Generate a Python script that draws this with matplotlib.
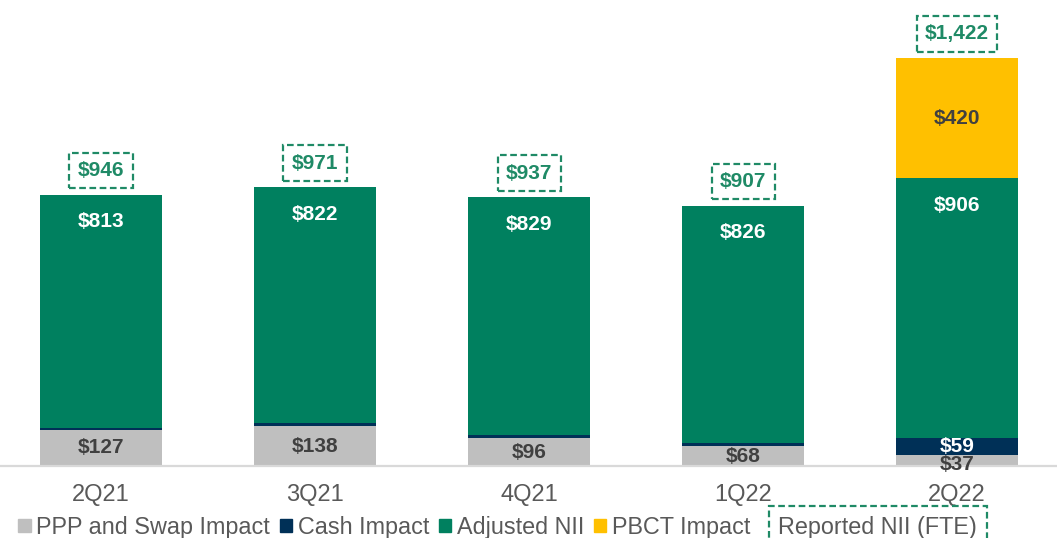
import matplotlib
matplotlib.use("Agg")
import matplotlib.pyplot as plt
from matplotlib.patches import Patch
import numpy as np

plt.rcParams['font.family'] = ['Liberation Sans', 'DejaVu Sans']

quarters = ["2Q21", "3Q21", "4Q21", "1Q22", "2Q22"]
ppp_swap = [127, 138, 96, 68, 37]
cash = [6, 11, 12, 13, 59]
adjusted = [813, 822, 829, 826, 906]
pbct = [0, 0, 0, 0, 420]
reported = [946, 971, 937, 907, 1422]

c_gray = '#BFBFBF'
c_navy = '#003057'
c_green = '#00805F'
c_yellow = '#FFC000'
c_box = '#1F8A66'
c_text = '#404040'
c_axis = '#595959'

fig = plt.figure(figsize=(10.57, 5.38), dpi=100)
ax = fig.add_axes([0, 72/538, 1, 466/538])

x = np.arange(len(quarters))
w = 0.57
b1 = np.array(ppp_swap)
b2 = b1 + np.array(cash)
b3 = b2 + np.array(adjusted)
ax.bar(x, ppp_swap, w, color=c_gray)
ax.bar(x, cash, w, bottom=b1, color=c_navy)
ax.bar(x, adjusted, w, bottom=b2, color=c_green)
ax.bar(x, pbct, w, bottom=b3, color=c_yellow)

ax.set_xlim(-0.472, 4.467)
ax.set_ylim(0, 1624)

fs = 15
for i in range(len(quarters)):
    yg = ppp_swap[i] / 2 if ppp_swap[i] > 50 else ppp_swap[i] / 2 - 14
    ax.text(x[i], yg, f"${ppp_swap[i]}", ha='center', va='center',
            fontsize=fs, fontweight='bold', color=c_text)
    if cash[i] > 30:
        ax.text(x[i], b1[i] + cash[i] / 2, f"${cash[i]}", ha='center', va='center',
                fontsize=fs, fontweight='bold', color='white')
    ax.text(x[i], b3[i] - 94, f"${adjusted[i]}", ha='center', va='center',
            fontsize=fs, fontweight='bold', color='white')
    if pbct[i] > 0:
        ax.text(x[i], b3[i] + pbct[i] / 2, f"${pbct[i]}", ha='center', va='center',
                fontsize=fs, fontweight='bold', color=c_text)
    ax.text(x[i], reported[i] + 84, f"${reported[i]:,}", ha='center', va='center',
            fontsize=fs, fontweight='bold', color=c_box,
            bbox=dict(boxstyle='square,pad=0.4', fc='none', ec=c_box,
                      lw=1.6, ls=(0, (3, 1.6))))

ax.set_xticks(x)
ax.set_xticklabels(quarters, fontsize=17, color=c_axis)
ax.tick_params(axis='x', length=0, pad=13)
ax.set_yticks([])
for s in ['top', 'right', 'left']:
    ax.spines[s].set_visible(False)
ax.spines['bottom'].set_color('#D9D9D9')
ax.spines['bottom'].set_linewidth(1.6)

handles = [Patch(color=c_gray), Patch(color=c_navy), Patch(color=c_green),
           Patch(color=c_yellow), Patch(color='none')]
labels = ["PPP and Swap Impact", "Cash Impact", "Adjusted NII", "PBCT Impact",
          "Reported NII (FTE)"]
leg = fig.legend(handles=handles, labels=labels, ncol=5, loc='center',
                 bbox_to_anchor=(0.471, 0.02), frameon=False, fontsize=16.8,
                 handlelength=0.52, handleheight=0.52, handletextpad=0.25,
                 columnspacing=0.42, labelcolor=c_axis, borderpad=0, borderaxespad=0)
leg.get_texts()[-1].set_bbox(dict(boxstyle='square,pad=0.42', fc='none', ec=c_box,
                                  lw=1.6, ls=(0, (3, 1.6))))

fig.savefig("out.png", dpi=100)
